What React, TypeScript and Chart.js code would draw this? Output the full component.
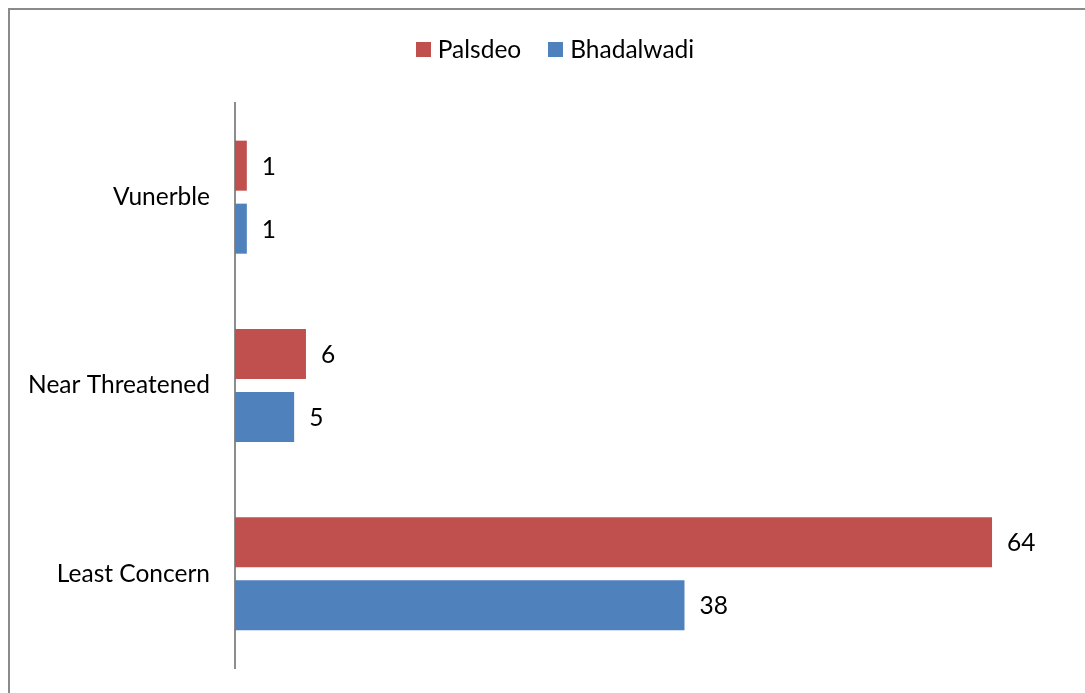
import React, { useEffect, useRef } from "react";
import { Chart, registerables } from "chart.js";

Chart.register(...registerables);

// Conservation status counts per site
const categories = ["Vunerble", "Near Threatened", "Least Concern"];
const seriesNames = ["Palsdeo", "Bhadalwadi"];
const palsdeoCounts = [1, 6, 64];
const bhadalwadiCounts = [1, 5, 38];
const seriesColors = ["#C0504D", "#4F81BD"];
const valueAxisMax = 70;

const FONT = "Lato, 'Noto Sans', sans-serif";
const FONT_SIZE = 24.5;

// Draws the value next to each bar and the centred legend row at the top
const labelsAndLegend = {
  id: "labelsAndLegend",
  afterDatasetsDraw(chart: any) {
    const ctx = chart.ctx as CanvasRenderingContext2D;
    ctx.save();
    ctx.font = `${FONT_SIZE}px ${FONT}`;
    ctx.fillStyle = "#000";
    ctx.textAlign = "left";
    ctx.textBaseline = "middle";
    chart.data.datasets.forEach((ds: any, di: number) => {
      const meta = chart.getDatasetMeta(di);
      meta.data.forEach((bar: any, i: number) => {
        ctx.fillText(String(ds.data[i]), bar.x + 15, bar.y + 1);
      });
    });

    // legend
    const box = 15;
    const boxGap = 7;
    const itemGap = 27;
    const widths = chart.data.datasets.map((ds: any) => ctx.measureText(ds.label).width);
    let total = 0;
    widths.forEach((w: number, i: number) => {
      total += box + boxGap + w + (i < widths.length - 1 ? itemGap : 0);
    });
    const cy = 49;
    let x = 555 - total / 2;
    chart.data.datasets.forEach((ds: any, i: number) => {
      ctx.fillStyle = ds.backgroundColor;
      ctx.fillRect(Math.round(x), Math.round(cy - box / 2), box, box);
      x += box + boxGap;
      ctx.fillStyle = "#000";
      ctx.fillText(ds.label, x, cy + 1);
      x += widths[i] + itemGap;
    });
    ctx.restore();
  },
};

export default function App() {
  const canvasRef = useRef<HTMLCanvasElement | null>(null);

  useEffect(() => {
    if (!canvasRef.current) return;
    const chart = new Chart(canvasRef.current, {
      type: "bar",
      data: {
        labels: categories,
        datasets: [
          {
            label: seriesNames[0],
            data: palsdeoCounts,
            backgroundColor: seriesColors[0],
            categoryPercentage: 0.669,
            barPercentage: 0.794,
          },
          {
            label: seriesNames[1],
            data: bhadalwadiCounts,
            backgroundColor: seriesColors[1],
            categoryPercentage: 0.669,
            barPercentage: 0.794,
          },
        ],
      },
      options: {
        indexAxis: "y",
        responsive: false,
        animation: false,
        layout: { padding: { top: 103, bottom: 25, left: 0, right: 22 } },
        plugins: {
          legend: { display: false },
          tooltip: { enabled: false },
        },
        scales: {
          x: { display: false, min: 0, max: valueAxisMax },
          y: {
            grid: { display: true, drawOnChartArea: false, drawTicks: false },
            border: { display: true, color: "#8c8c8c", width: 2 },
            ticks: {
              color: "#000",
              padding: 25,
              font: { family: FONT, size: FONT_SIZE },
            },
            afterFit: (scale: any) => {
              scale.width = 235;
              // the plot area is fixed by layout padding alone
              scale.paddingTop = 0;
              scale.paddingBottom = 0;
            },
          },
        },
      },
      plugins: [labelsAndLegend],
    });
    return () => chart.destroy();
  }, []);

  return (
    <div style={{ position: "absolute", left: 0, top: 0, width: 1085, height: 693, overflow: "hidden", background: "#fff" }}>
      <div
        style={{
          position: "absolute",
          left: 8,
          top: 8,
          width: 1200,
          height: 800,
          borderLeft: "2px solid #8a8a8a",
          borderTop: "2px solid #8a8a8a",
        }}
      />
      <canvas ref={canvasRef} width={1085} height={693} style={{ position: "absolute", left: 0, top: 0 }} />
    </div>
  );
}
